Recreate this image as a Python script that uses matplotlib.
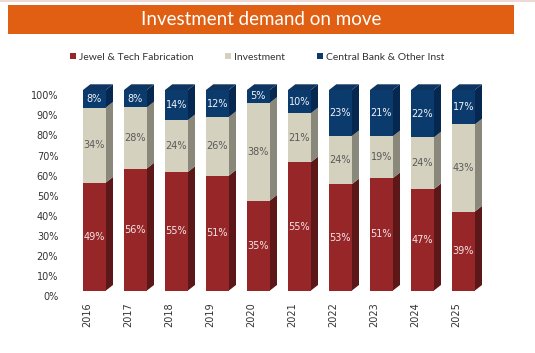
import matplotlib
matplotlib.use("Agg")
import matplotlib.pyplot as plt
from matplotlib.patches import Polygon, Rectangle
from matplotlib.transforms import ScaledTranslation
import numpy as np

years = ["2016", "2017", "2018", "2019", "2020", "2021", "2022", "2023", "2024", "2025"]
jewel = [49, 56, 55, 51, 35, 55, 53, 51, 47, 39]
invest = [34, 28, 24, 26, 38, 21, 24, 19, 24, 43]
central = [8, 8, 14, 12, 5, 10, 23, 21, 22, 17]
series_names = ["Jewel & Tech Fabrication", "Investment", "Central Bank & Other Inst"]
yticks = [0, 10, 20, 30, 40, 50, 60, 70, 80, 90, 100]

front_cols = ["#972628", "#D4D1BE", "#0B3A6D"]
side_cols = ["#5C1819", "#8A887B", "#062850"]
top_cols = ["#7E1F21", "#B9B6A4", "#0E3461"]
label_cols = ["#F4E6E6", "#5A5A5A", "#F2F4F8"]

W, H = 535, 353
fig = plt.figure(figsize=(W / 100, H / 100), dpi=100)
fig.patch.set_facecolor("white")

# title banner
fig.patches.append(Rectangle((8 / W, 1 - 34 / H), 506 / W, 29 / H, transform=fig.transFigure,
                             facecolor="#E05F12", edgecolor="none", zorder=0))
fig.patches.append(Rectangle((0, 1 - 1.5 / H), 1, 1.5 / H, transform=fig.transFigure,
                             facecolor="#F0D8D4", edgecolor="none", zorder=0))
fig.text(261 / W, 1 - 19.5 / H, "Investment demand on move", color="white",
         fontsize=13.5, family="Lato", ha="center", va="center")

# axes placement
pitch = 41.0
ax_left_px, ax_right_px = 70, 70 + pitch * 11
x0_center_px = 94.35
bottom_px, top_px = 290.7, 90.0
ax = fig.add_axes([ax_left_px / W, 1 - bottom_px / H, (ax_right_px - ax_left_px) / W, (bottom_px - top_px) / H])
xmin = -(x0_center_px - ax_left_px) / pitch
ax.set_xlim(xmin, xmin + 11)
ax.set_ylim(0, 1)
for s in ax.spines.values():
    s.set_visible(False)
ax.set_facecolor("none")

data = np.array([jewel, invest, central], dtype=float)
totals = data.sum(axis=0)
norm = data / totals
x = np.arange(len(years))
w = 22.7 / pitch
dx = 7.3 / pitch
dy = 5.7 / (bottom_px - top_px)

bottoms = np.zeros(len(years))
handles = []
for k in range(3):
    h = norm[k]
    bars = ax.bar(x, h, width=w, bottom=bottoms, color=front_cols[k], edgecolor="none",
                  label=series_names[k], zorder=3)
    handles.append(bars)
    for i in range(len(years)):
        y0, y1 = bottoms[i], bottoms[i] + h[i]
        xr = x[i] + w / 2
        xl = x[i] - w / 2
        side = Polygon([(xr, y0), (xr + dx, y0 + dy), (xr + dx, y1 + dy), (xr, y1)],
                       closed=True, facecolor=side_cols[k], edgecolor="none", zorder=2, clip_on=False)
        ax.add_patch(side)
        if k == 2:
            top = Polygon([(xl, y1), (xl + dx, y1 + dy), (xr + dx, y1 + dy), (xr, y1)],
                          closed=True, facecolor=top_cols[k], edgecolor="none", zorder=2, clip_on=False)
            ax.add_patch(top)
        ax.text(x[i], (y0 + y1) / 2, f"{int(data[k][i])}%", ha="center", va="center",
                fontsize=7, color=label_cols[k], family="DejaVu Sans", zorder=5)
    bottoms = bottoms + h

ax.set_yticks([v / 100 for v in yticks])
ax.set_yticklabels([f"{v}%" for v in yticks], fontsize=7, color="#333333", family="DejaVu Sans")
ax.set_xticks(x)
ax.set_xticklabels(years, rotation=90, fontsize=7, color="#333333", family="DejaVu Sans", va="top")
ax.tick_params(axis="y", length=0, pad=8.5)
ax.tick_params(axis="x", length=0, pad=8.5)
off_y = ScaledTranslation(0, -5.3 / 100, fig.dpi_scale_trans)
for lbl in ax.get_yticklabels():
    lbl.set_transform(lbl.get_transform() + off_y)
off_x = ScaledTranslation(-7.5 / 100, 0, fig.dpi_scale_trans)
for lbl in ax.get_xticklabels():
    lbl.set_transform(lbl.get_transform() + off_x)

leg = fig.legend(handles=handles, labels=series_names, loc="center", ncol=3,
                 bbox_to_anchor=(257 / W, 1 - 57 / H), frameon=False,
                 prop={"family": "Lato", "size": 7.5}, handlelength=0.6, handleheight=0.6,
                 handletextpad=0.3, columnspacing=3.0, labelcolor="#333333")

fig.savefig("out.png", dpi=100, facecolor="white")
